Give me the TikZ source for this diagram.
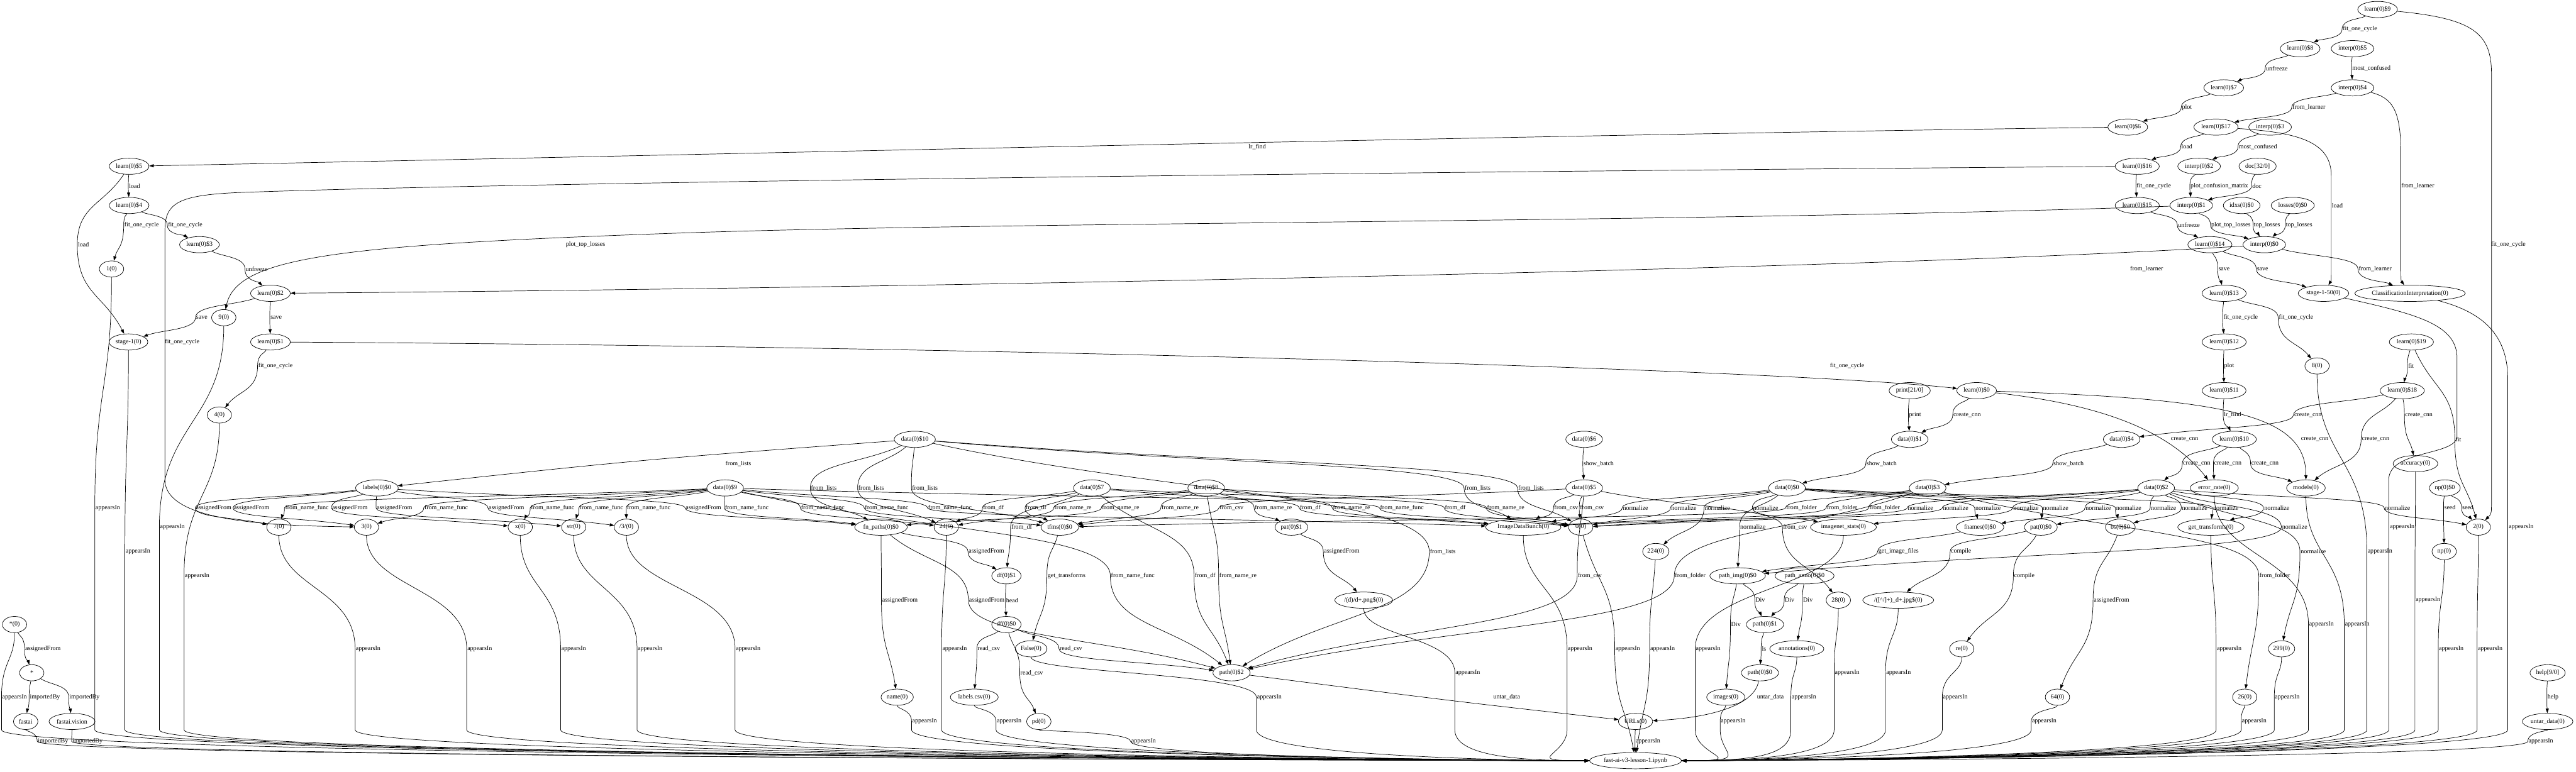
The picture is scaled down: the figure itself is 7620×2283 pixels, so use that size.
\documentclass[tikz,border=0pt]{standalone}
\usepackage{fontspec}
\setmainfont{Liberation Serif}
\usetikzlibrary{arrows.meta,calc,shapes.geometric}
\newcommand\lf{\fontsize{14pt}{16pt}\selectfont}
\tikzset{
 nd/.style={draw, line width=1pt, ellipse, minimum height=36pt, minimum width=54pt, inner xsep=2pt, inner ysep=0pt, font=\lf},
 lbl/.style={inner sep=0pt, font=\lf},
 edge/.style={line width=1pt, -{Triangle[length=10pt,width=7pt]}},
}
% edge through label (label centre lx,ly)
\newcommand\EE[5]{%
 \node[lbl] (L) at (#3,#4) {#5};
 \coordinate (V) at ($(L.west)+(-2,0)$);
 \coordinate (Ma) at ($(#1)!.5!(V)$);
 \coordinate (Mb) at ($(V)!.5!(#2)$);
 \draw[edge] (#1) .. controls (Ma) and (V |- Ma) .. (V) .. controls (V |- Mb) and (Mb) .. (#2);
}
% appearsIn-type edge into the notebook node
\newcommand\AP[4][appearsIn]{%
 \node[lbl] (L) at (#3,#4) {#1};
 \coordinate (V) at ($(L.west)+(-2,0)$);
 \coordinate (Ma) at ($(#2)!.5!(V)$);
 \pgfmathsetmacro\yb{max(#4,2160)}%
 \coordinate (B) at (V |- 0,\yb);
 \draw[edge] let \p1=(V), \p2=(fast), \n1={ifthenelse(\x1<\x2,-1,1)} in
   (#2) .. controls (#2 |- Ma) and (V |- Ma) .. (V) -- (B)
   .. controls ($(B)!.85!(B |- fast)$) and ($(fast)+(\n1*260,0)$) .. (fast);
}
\begin{document}
\begin{tikzpicture}[x=0.75pt,y=-0.75pt]
\useasboundingbox (0,0) rectangle (7620,2283);
\fill[white] (0,0) rectangle (7620,2283);
% ---------------- nodes ----------------
\node[nd] (l9) at (7033,28) {learn(0)\$9};
\node[nd] (l8) at (6804,144) {learn(0)\$8};
\node[nd] (ip5) at (6959,144) {interp(0)\$5};
\node[nd] (l7) at (6578,260) {learn(0)\$7};
\node[nd] (ip4) at (6959,260) {interp(0)\$4};
\node[nd] (l6) at (6294,376) {learn(0)\$6};
\node[nd] (l17) at (6555,376) {learn(0)\$17};
\node[nd] (ip3) at (6715,376) {interp(0)\$3};
\node[nd] (l5) at (382,492) {learn(0)\$5};
\node[nd] (l16) at (6322,492) {learn(0)\$16};
\node[nd] (ip2) at (6505,492) {interp(0)\$2};
\node[nd] (doc) at (6678,492) {doc[32/0]};
\node[nd] (l4) at (382,608) {learn(0)\$4};
\node[nd] (l15) at (6322,608) {learn(0)\$15};
\node[nd] (ip1) at (6482,608) {interp(0)\$1};
\node[nd] (idxs) at (6631,608) {idxs(0)\$0};
\node[nd] (loss) at (6782,608) {losses(0)\$0};
\node[nd] (l3) at (590,724) {learn(0)\$3};
\node[nd] (l14) at (6537,724) {learn(0)\$14};
\node[nd] (ip0) at (6698,724) {interp(0)\$0};
\node[nd] (n1) at (330,796) {1(0)};
\node[nd] (l2) at (800,868) {learn(0)\$2};
\node[nd] (l13) at (6579,868) {learn(0)\$13};
\node[nd] (st50) at (6873,868) {stage-1-50(0)};
\node[nd] (ci) at (7129,868) {ClassificationInterpretation(0)};
\node[nd] (n9) at (662,940) {9(0)};
\node[nd] (st1) at (380,1012) {stage-1(0)};
\node[nd] (l1) at (800,1012) {learn(0)\$1};
\node[nd] (l12) at (6579,1012) {learn(0)\$12};
\node[nd] (l19) at (7133,1012) {learn(0)\$19};
\node[nd] (n8) at (6854,1083) {8(0)};
\node[nd] (l11) at (6579,1156) {learn(0)\$11};
\node[nd] (l18) at (7106,1156) {learn(0)\$18};
\node[nd] (pr) at (5649,1156) {print[21/0]};
\node[nd] (l0) at (5847,1156) {learn(0)\$0};
\node[nd] (n4) at (649,1228) {4(0)};
\node[nd] (d10) at (2706,1300) {data(0)\$10};
\node[nd] (d6) at (4686,1300) {data(0)\$6};
\node[nd] (d1) at (5649,1300) {data(0)\$1};
\node[nd] (d4) at (6276,1300) {data(0)\$4};
\node[nd] (l10) at (6609,1300) {learn(0)\$10};
\node[nd] (acc) at (7145,1372) {accuracy(0)};
\node[nd] (lab) at (1115,1444) {labels(0)\$0};
\node[nd] (d9) at (2145,1444) {data(0)\$9};
\node[nd] (d7) at (3230,1444) {data(0)\$7};
\node[nd] (d8) at (3568,1444) {data(0)\$8};
\node[nd] (d5) at (4686,1444) {data(0)\$5};
\node[nd] (d0) at (5286,1444) {data(0)\$0};
\node[nd] (d3) at (5702,1444) {data(0)\$3};
\node[nd] (d2) at (6378,1444) {data(0)\$2};
\node[nd] (err) at (6550,1444) {error\_rate(0)};
\node[nd] (mod) at (6821,1444) {models(0)};
\node[nd] (np0) at (7232,1444) {np(0)\$0};
\node[nd] (n7) at (825,1560) {7(0)};
\node[nd] (n3) at (1084,1560) {3(0)};
\node[nd] (x0) at (1539,1560) {x(0)};
\node[nd] (str) at (1697,1560) {str(0)};
\node[nd] (s3) at (1853,1560) {/3/(0)};
\node[nd] (fnp) at (2606,1560) {fn\_paths(0)\$0};
\node[nd] (n24) at (2799,1560) {24(0)};
\node[nd] (tfms) at (3135,1560) {tfms(0)\$0};
\node[nd] (pat1) at (3820,1560) {pat(0)\$1};
\node[nd] (idb) at (4506,1560) {ImageDataBunch(0)};
\node[nd] (n0) at (4676,1560) {0(0)};
\node[nd] (ims) at (5453,1560) {imagenet\_stats(0)};
\node[nd] (fn) at (5857,1560) {fnames(0)\$0};
\node[nd] (pat0) at (6037,1560) {pat(0)\$0};
\node[nd] (bs) at (6272,1560) {bs(0)\$0};
\node[nd] (gt) at (6540,1560) {get\_transforms(0)};
\node[nd] (n2) at (7331,1560) {2(0)};
\node[nd] (n224) at (4898,1632) {224(0)};
\node[nd] (np) at (7230,1632) {np(0)};
\node[nd] (df1) at (2977,1704) {df(0)\$1};
\node[nd] (pimg) at (5140,1704) {path\_img(0)\$0};
\node[nd] (panno) at (5338,1704) {path\_anno(0)\$0};
\node[nd] (png) at (4034,1776) {/(d)/d+.png\$(0)};
\node[nd] (n28) at (5438,1776) {28(0)};
\node[nd] (jpg) at (5615,1776) {/([\textasciicircum/]+)\_d+.jpg\$(0)};
\node[nd] (star0) at (43,1848) {*(0)};
\node[nd] (df0) at (2977,1848) {df(0)\$0};
\node[nd] (p1) at (5221,1848) {path(0)\$1};
\node[nd] (fls) at (3050,1920) {False(0)};
\node[nd] (ann) at (5315,1920) {annotations(0)};
\node[nd] (re) at (5803,1920) {re(0)};
\node[nd] (n299) at (6749,1920) {299(0)};
\node[nd] (star) at (94,1991) {*};
\node[nd] (p2) at (3643,1991) {path(0)\$2};
\node[nd] (p0) at (5206,1991) {path(0)\$0};
\node[nd] (help) at (7536,1991) {help[9/0]};
\node[nd] (name) at (2654,2063) {name(0)};
\node[nd] (lcsv) at (2882,2063) {labels.csv(0)};
\node[nd] (imgs) at (5105,2063) {images(0)};
\node[nd] (n64) at (6086,2063) {64(0)};
\node[nd] (n26) at (6640,2063) {26(0)};
\node[nd] (fai) at (76,2135) {fastai};
\node[nd] (fav) at (213,2135) {fastai.vision};
\node[nd] (pd) at (3073,2135) {pd(0)};
\node[nd] (urls) at (4838,2135) {URLs(0)};
\node[nd] (ut) at (7536,2135) {untar\_data(0)};
\node[nd] (fast) at (4838,2251) {fast-ai-v3-lesson-1.ipynb};
% ---------------- special long edges ----------------
\node[lbl] (c1) at (3719,434) {lr\_find};
\draw[edge] (l6) .. controls (4500,400) and (2000,460) .. (l5);
\node[lbl] (c2) at (1732,724) {plot\_top\_losses};
\draw[edge] (ip1) .. controls (5000,660) and (3000,655) .. (2000,690) .. controls (1000,725) and (700,760) .. (n9);
\node[lbl] (c3) at (539,1012) {fit\_one\_cycle};
\draw[edge] (l16) .. controls (4000,510) and (1500,540) .. (700,570) .. controls (530,578) and (488,600) .. (488,680) -- (488,1420) .. controls (488,1545) and (800,1555) .. (n3);
\node[lbl] (c4) at (6350,796) {from\_learner};
\draw[edge] (ip0) .. controls (5500,800) and (2500,855) .. (l2);
\node[lbl] (c5) at (5464,1083) {fit\_one\_cycle};
\draw[edge] (l1) .. controls (3000,1025) and (5300,1095) .. (l0);
\node[lbl] (c6) at (6914,608) {load};
\draw[edge] (l17) .. controls (6800,392) and (6896,420) .. (6896,520) -- (6896,790) .. controls (6896,830) .. (st50);
\node[lbl] (c7) at (7152,550) {from\_learner};
\draw[edge] (ip4) .. controls (7080,290) and (7102,330) .. (7102,460) -- (7102,790) .. controls (7102,830) .. (ci);
\node[lbl] (c8) at (7420,724) {fit\_one\_cycle};
\draw[edge] (l9) .. controls (7320,55) and (7370,100) .. (7370,220) -- (7370,1480) .. controls (7370,1520) .. (n2);
\node[lbl] (c9) at (7106,1560) {appearsIn};
\draw[edge] (st50) .. controls (7150,930) and (7268,960) .. (7268,1060) -- (7268,1290) .. controls (7268,1350) and (7066,1330) .. (7066,1420) -- (7066,2160) .. controls (7066,2237) and (5098,2251) .. (fast);
\node[lbl] (c10) at (7458,1560) {appearsIn};
\draw[edge] (ci) .. controls (7330,920) and (7418,980) .. (7418,1120) -- (7418,2160) .. controls (7418,2237) and (5098,2251) .. (fast);
\node[lbl] (c11) at (6847,1300) {create\_cnn};
\draw[edge] (l0) .. controls (6600,1180) and (6821,1230) .. (mod);
\node[lbl] (c12) at (6462,1300) {create\_cnn};
\draw[edge] (l0) .. controls (6150,1190) and (6400,1250) .. (err);
\node[lbl] (c13) at (2184,1372) {from\_lists};
\draw[edge] (d10) .. controls (1900,1360) .. (lab);
\node[lbl] (c14) at (4457,2063) {untar\_data};
\draw[edge] (p2) .. controls (4300,2075) .. (urls);
\node[lbl] (c15) at (5237,2063) {untar\_data};
\draw[edge] (p0) .. controls (5190,2090) and (5050,2125) .. (urls);
% ---------------- left cluster ----------------
\EE{l5}{l4}{398}{550}{load}
\EE{l5}{st1}{247}{724}{load}
\EE{l4}{n1}{419}{666}{fit\_one\_cycle}
\EE{l4}{l3}{548}{666}{fit\_one\_cycle}
\EE{l3}{l2}{759}{796}{unfreeze}
\EE{l2}{l1}{817}{940}{save}
\EE{l2}{st1}{597}{940}{save}
\EE{l1}{n4}{815}{1083}{fit\_one\_cycle}
% ---------------- right cluster ----------------
\EE{l9}{l8}{6981}{86}{fit\_one\_cycle}
\EE{l8}{l7}{6735}{202}{unfreeze}
\EE{ip5}{ip4}{7015}{202}{most\_confused}
\EE{l7}{l6}{6469}{318}{plot}
\EE{ip4}{l17}{6830}{318}{from\_learner}
\EE{l17}{l16}{6469}{434}{load}
\EE{ip3}{ip2}{6679}{434}{most\_confused}
\EE{l16}{l15}{6371}{550}{fit\_one\_cycle}
\EE{ip2}{ip1}{6565}{550}{plot\_confusion\_matrix}
\EE{doc}{ip1}{6676}{550}{doc}
\EE{l15}{l14}{6475}{666}{unfreeze}
\EE{ip1}{ip0}{6599}{666}{plot\_top\_losses}
\EE{idxs}{ip0}{6706}{666}{top\_losses}
\EE{loss}{ip0}{6801}{666}{top\_losses}
\EE{l14}{l13}{6579}{796}{save}
\EE{l14}{st50}{6693}{796}{save}
\EE{ip0}{ci}{7026}{796}{from\_learner}
\EE{l13}{l12}{6628}{940}{fit\_one\_cycle}
\EE{l13}{n8}{6792}{940}{fit\_one\_cycle}
\EE{l12}{l11}{6594}{1083}{plot}
\EE{l19}{l18}{7132}{1083}{fit}
\EE{l19}{n2}{7272}{1300}{fit}
\EE{l11}{l10}{6604}{1228}{lr\_find}
\EE{l18}{d4}{6827}{1228}{create\_cnn}
\EE{l18}{acc}{7155}{1228}{create\_cnn}
\EE{l18}{mod}{7027}{1300}{create\_cnn}
\EE{l0}{d1}{5819}{1228}{create\_cnn}
\EE{pr}{d1}{5665}{1228}{print}
\EE{l10}{d2}{6498}{1372}{create\_cnn}
\EE{l10}{err}{6590}{1372}{create\_cnn}
\EE{l10}{mod}{6700}{1372}{create\_cnn}
\EE{d1}{d0}{5566}{1372}{show\_batch}
\EE{d4}{d3}{6119}{1372}{show\_batch}
\EE{d6}{d5}{4729}{1372}{show\_batch}
\EE{np0}{np}{7247}{1502}{seed}
\EE{np0}{n2}{7300}{1502}{seed}
% ---------------- central band ----------------
\EE{lab}{n7}{632}{1503}{assignedFrom}
\EE{lab}{n3}{744}{1503}{assignedFrom}
\EE{lab}{x0}{1035}{1503}{assignedFrom}
\EE{lab}{str}{1167}{1503}{assignedFrom}
\EE{lab}{s3}{1498}{1503}{assignedFrom}
\EE{lab}{fnp}{2081}{1503}{assignedFrom}
\EE{d9}{n7}{908}{1503}{from\_name\_func}
\EE{d9}{n3}{1320}{1503}{from\_name\_func}
\EE{d9}{x0}{1635}{1503}{from\_name\_func}
\EE{d9}{str}{1779}{1503}{from\_name\_func}
\EE{d9}{s3}{1919}{1503}{from\_name\_func}
\EE{d9}{fnp}{2209}{1503}{from\_name\_func}
\EE{d9}{n24}{2434}{1503}{from\_name\_func}
\EE{d9}{tfms}{2623}{1503}{from\_name\_func}
\EE{d9}{idb}{2810}{1503}{from\_name\_func}
\EE{d9}{n0}{4147}{1503}{from\_name\_func}
\EE{d9}{p2}{3351}{1704}{from\_name\_func}
\EE{d10}{fnp}{2437}{1444}{from\_lists}
\EE{d10}{n24}{2577}{1444}{from\_lists}
\EE{d10}{tfms}{2736}{1444}{from\_lists}
\EE{d10}{idb}{4371}{1444}{from\_lists}
\EE{d10}{n0}{4529}{1444}{from\_lists}
\EE{d10}{p2}{4268}{1632}{from\_lists}
\EE{d7}{n24}{2939}{1503}{from\_df}
\EE{d7}{tfms}{3065}{1503}{from\_df}
\EE{d7}{df1}{3022}{1560}{from\_df}
\EE{d7}{p2}{3565}{1704}{from\_df}
\EE{d7}{idb}{3876}{1503}{from\_df}
\EE{d7}{n0}{4305}{1503}{from\_df}
\EE{d8}{n24}{3174}{1503}{from\_name\_re}
\EE{d8}{fnp}{3315}{1503}{from\_name\_re}
\EE{d8}{tfms}{3491}{1503}{from\_name\_re}
\EE{d8}{pat1}{3767}{1503}{from\_name\_re}
\EE{d8}{idb}{3998}{1503}{from\_name\_re}
\EE{d8}{n0}{4454}{1503}{from\_name\_re}
\EE{d8}{p2}{3662}{1704}{from\_name\_re}
\EE{d5}{tfms}{3643}{1503}{from\_csv}
\EE{d5}{idb}{4633}{1503}{from\_csv}
\EE{d5}{n0}{4709}{1503}{from\_csv}
\EE{d5}{p2}{4703}{1704}{from\_csv}
\EE{d5}{n28}{5310}{1560}{from\_csv}
\EE{d0}{idb}{4838}{1503}{normalize}
\EE{d0}{n0}{4981}{1503}{normalize}
\EE{d0}{n224}{5080}{1503}{normalize}
\EE{d0}{pimg}{5185}{1560}{normalize}
\EE{d0}{ims}{5223}{1503}{normalize}
\EE{d0}{fn}{5881}{1503}{normalize}
\EE{d0}{pat0}{6081}{1503}{normalize}
\EE{d0}{bs}{6297}{1503}{normalize}
\EE{d0}{gt}{6584}{1503}{normalize}
\EE{d3}{tfms}{5329}{1503}{from\_folder}
\EE{d3}{idb}{5449}{1503}{from\_folder}
\EE{d3}{n0}{5575}{1503}{from\_folder}
\EE{d3}{p2}{5000}{1704}{from\_folder}
\EE{d3}{n26}{6729}{1704}{from\_folder}
\EE{d2}{idb}{5681}{1503}{normalize}
\EE{d2}{n0}{5785}{1503}{normalize}
\EE{d2}{ims}{5993}{1503}{normalize}
\EE{d2}{fn}{6207}{1503}{normalize}
\EE{d2}{pat0}{6400}{1503}{normalize}
\EE{d2}{bs}{6492}{1503}{normalize}
\EE{d2}{gt}{6735}{1503}{normalize}
\EE{d2}{n2}{7092}{1503}{normalize}
\EE{d2}{pimg}{6788}{1560}{normalize}
\EE{d2}{n299}{6843}{1632}{normalize}
% ---------------- lower part ----------------
\EE{fnp}{df1}{2918}{1632}{assignedFrom}
\EE{fnp}{name}{2662}{1776}{assignedFrom}
\EE{fnp}{p2}{2919}{1776}{assignedFrom}
\EE{df1}{df0}{2994}{1776}{head}
\EE{tfms}{fls}{3155}{1704}{get\_transforms}
\EE{pat1}{png}{3969}{1632}{assignedFrom}
\EE{df0}{lcsv}{2925}{1920}{read\_csv}
\EE{df0}{pd}{3052}{1991}{read\_csv}
\EE{df0}{p2}{3168}{1920}{read\_csv}
\EE{fn}{pimg}{5616}{1632}{get\_image\_files}
\EE{pat0}{jpg}{5801}{1632}{compile}
\EE{pat0}{re}{5988}{1704}{compile}
\EE{bs}{n64}{6246}{1776}{assignedFrom}
\EE{pimg}{p1}{5207}{1776}{Div}
\EE{panno}{p1}{5294}{1776}{Div}
\EE{panno}{ann}{5348}{1776}{Div}
\EE{pimg}{imgs}{5135}{1848}{Div}
\EE{p1}{p0}{5218}{1920}{ls}
\EE{star0}{star}{127}{1920}{assignedFrom}
\EE{star}{fai}{133}{2063}{importedBy}
\EE{star}{fav}{250}{2063}{importedBy}
\EE{help}{ut}{7552}{2063}{help}
\EE{urls}{fast}{4875}{2194}{appearsIn}
\EE{n0}{fast}{4815}{1920}{appearsIn}
\EE{n224}{fast}{4918}{1920}{appearsIn}
% ---------------- appearsIn ----------------
\AP{n1}{319}{1503}
\AP{st1}{408}{1632}
\AP{n9}{510}{1560}
\AP{n4}{583}{1704}
\AP{n7}{1089}{1920}
\AP{n3}{1419}{1920}
\AP{x0}{1697}{1920}
\AP{str}{1923}{1920}
\AP{s3}{2213}{1920}
\AP{n24}{2824}{1920}
\AP{name}{2735}{2135}
\AP{lcsv}{2985}{2135}
\AP{pd}{3383}{2194}
\AP{fls}{3755}{2063}
\AP{png}{4342}{1991}
\AP{idb}{4674}{1920}
\AP{ims}{5053}{1920}
\AP{imgs}{5127}{2135}
\AP{ann}{5336}{2063}
\AP{n28}{5464}{1991}
\AP{jpg}{5616}{1991}
\AP{re}{5784}{2063}
\AP{n64}{6047}{2135}
\AP{gt}{6594}{1920}
\AP{n299}{6766}{2063}
\AP{n26}{6668}{2135}
\AP{err}{6867}{1848}
\AP{mod}{6973}{1848}
\AP{n8}{7040}{1632}
\AP{acc}{7182}{1776}
\AP{np}{7251}{1920}
\AP{n2}{7366}{1920}
\AP{ut}{7516}{2194}
\AP{star0}{43}{2063}
\AP[importedBy]{fai}{157}{2194}
\AP[importedBy]{fav}{259}{2194}
\end{tikzpicture}
\end{document}
